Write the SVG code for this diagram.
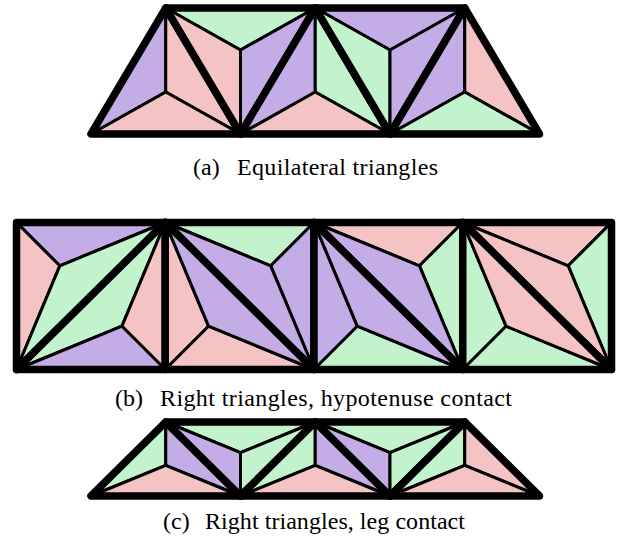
<svg xmlns="http://www.w3.org/2000/svg" width="621" height="544" viewBox="0 0 621 544">
<style>
polygon{stroke:#000;stroke-linejoin:round;stroke-linecap:round}
.p{fill:#c4ade6;stroke-width:3}
.k{fill:#f4c3c3;stroke-width:3}
.g{fill:#c3f3cc;stroke-width:3}
.o{fill:none;stroke-width:7.5}
.cap{font-family:'Liberation Serif','Times New Roman',serif;font-size:24px;fill:#000}
</style>
<rect width="621" height="544" fill="#fff"/>
<g id="panel-a">
 <g id="a1">
  <polygon class="p" points="91,134 165.75,8 165.75,92"/>
  <polygon class="k" points="165.75,8 240.5,134 165.75,92"/>
  <polygon class="k" points="91,134 240.5,134 165.75,92"/>
  <polygon class="o" points="91,134 240.5,134 165.75,8"/>
 </g>
 <g id="a2">
  <polygon class="g" points="165.75,8 315.25,8 240.5,50"/>
  <polygon class="k" points="165.75,8 240.5,134 240.5,50"/>
  <polygon class="p" points="315.25,8 240.5,134 240.5,50"/>
  <polygon class="o" points="165.75,8 315.25,8 240.5,134"/>
 </g>
 <g id="a3">
  <polygon class="p" points="240.5,134 315.25,8 315.25,92"/>
  <polygon class="g" points="315.25,8 390,134 315.25,92"/>
  <polygon class="k" points="240.5,134 390,134 315.25,92"/>
  <polygon class="o" points="240.5,134 390,134 315.25,8"/>
 </g>
 <g id="a4">
  <polygon class="p" points="315.25,8 464.75,8 390,50"/>
  <polygon class="g" points="315.25,8 390,134 390,50"/>
  <polygon class="p" points="464.75,8 390,134 390,50"/>
  <polygon class="o" points="315.25,8 464.75,8 390,134"/>
 </g>
 <g id="a5">
  <polygon class="p" points="390,134 464.75,8 464.75,92"/>
  <polygon class="k" points="464.75,8 539.5,134 464.75,92"/>
  <polygon class="g" points="390,134 539.5,134 464.75,92"/>
  <polygon class="o" points="390,134 539.5,134 464.75,8"/>
 </g>
</g>
<g id="panel-b">
 <g id="b1u">
  <polygon class="p" points="16.5,222.5 165.25,222.5 59.8,265.8"/>
  <polygon class="k" points="16.5,222.5 16.5,369.5 59.8,265.8"/>
  <polygon class="g" points="165.25,222.5 16.5,369.5 59.8,265.8"/>
  <polygon class="o" points="16.5,222.5 165.25,222.5 16.5,369.5"/>
 </g>
 <g id="b1l">
  <polygon class="g" points="165.25,222.5 16.5,369.5 121.95,326.2"/>
  <polygon class="k" points="165.25,222.5 165.25,369.5 121.95,326.2"/>
  <polygon class="p" points="16.5,369.5 165.25,369.5 121.95,326.2"/>
  <polygon class="o" points="165.25,222.5 165.25,369.5 16.5,369.5"/>
 </g>
 <g id="b2u">
  <polygon class="g" points="165.25,222.5 314,222.5 270.7,265.8"/>
  <polygon class="p" points="314,222.5 314,369.5 270.7,265.8"/>
  <polygon class="p" points="165.25,222.5 314,369.5 270.7,265.8"/>
  <polygon class="o" points="165.25,222.5 314,222.5 314,369.5"/>
 </g>
 <g id="b2l">
  <polygon class="k" points="165.25,222.5 165.25,369.5 208.55,326.2"/>
  <polygon class="k" points="165.25,369.5 314,369.5 208.55,326.2"/>
  <polygon class="p" points="165.25,222.5 314,369.5 208.55,326.2"/>
  <polygon class="o" points="165.25,222.5 165.25,369.5 314,369.5"/>
 </g>
 <g id="b3u">
  <polygon class="k" points="314,222.5 462.75,222.5 419.45,265.8"/>
  <polygon class="g" points="462.75,222.5 462.75,369.5 419.45,265.8"/>
  <polygon class="p" points="314,222.5 462.75,369.5 419.45,265.8"/>
  <polygon class="o" points="314,222.5 462.75,222.5 462.75,369.5"/>
 </g>
 <g id="b3l">
  <polygon class="p" points="314,222.5 314,369.5 357.3,326.2"/>
  <polygon class="g" points="314,369.5 462.75,369.5 357.3,326.2"/>
  <polygon class="p" points="314,222.5 462.75,369.5 357.3,326.2"/>
  <polygon class="o" points="314,222.5 314,369.5 462.75,369.5"/>
 </g>
 <g id="b4u">
  <polygon class="k" points="462.75,222.5 611.5,222.5 568.2,265.8"/>
  <polygon class="g" points="611.5,222.5 611.5,369.5 568.2,265.8"/>
  <polygon class="k" points="462.75,222.5 611.5,369.5 568.2,265.8"/>
  <polygon class="o" points="462.75,222.5 611.5,222.5 611.5,369.5"/>
 </g>
 <g id="b4l">
  <polygon class="g" points="462.75,222.5 462.75,369.5 506.05,326.2"/>
  <polygon class="g" points="462.75,369.5 611.5,369.5 506.05,326.2"/>
  <polygon class="k" points="462.75,222.5 611.5,369.5 506.05,326.2"/>
  <polygon class="o" points="462.75,222.5 462.75,369.5 611.5,369.5"/>
 </g>
</g>
<g id="panel-c">
 <g id="c1">
  <polygon class="g" points="91,496 165.75,422 165.75,465.3"/>
  <polygon class="p" points="165.75,422 240.5,496 165.75,465.3"/>
  <polygon class="k" points="91,496 240.5,496 165.75,465.3"/>
  <polygon class="o" points="91,496 240.5,496 165.75,422"/>
 </g>
 <g id="c2">
  <polygon class="g" points="165.75,422 315.25,422 240.5,452.7"/>
  <polygon class="p" points="165.75,422 240.5,496 240.5,452.7"/>
  <polygon class="g" points="315.25,422 240.5,496 240.5,452.7"/>
  <polygon class="o" points="165.75,422 315.25,422 240.5,496"/>
 </g>
 <g id="c3">
  <polygon class="g" points="240.5,496 315.25,422 315.25,465.3"/>
  <polygon class="p" points="315.25,422 390,496 315.25,465.3"/>
  <polygon class="k" points="240.5,496 390,496 315.25,465.3"/>
  <polygon class="o" points="240.5,496 390,496 315.25,422"/>
 </g>
 <g id="c4">
  <polygon class="g" points="315.25,422 464.75,422 390,452.7"/>
  <polygon class="p" points="315.25,422 390,496 390,452.7"/>
  <polygon class="g" points="464.75,422 390,496 390,452.7"/>
  <polygon class="o" points="315.25,422 464.75,422 390,496"/>
 </g>
 <g id="c5">
  <polygon class="g" points="390,496 464.75,422 464.75,465.3"/>
  <polygon class="k" points="464.75,422 539.5,496 464.75,465.3"/>
  <polygon class="k" points="390,496 539.5,496 464.75,465.3"/>
  <polygon class="o" points="390,496 539.5,496 464.75,422"/>
 </g>
</g>
<g id="connectors"/>
<g id="captions" class="cap" font-family="Liberation Serif, serif">
 <text x="193" y="175">(a)</text>
 <text x="237" y="175" textLength="201">Equilateral triangles</text>
 <text x="115" y="406">(b)</text>
 <text x="160" y="406" textLength="352">Right triangles, hypotenuse contact</text>
 <text x="163" y="529">(c)</text>
 <text x="205" y="529" textLength="260">Right triangles, leg contact</text>
</g>
</svg>
